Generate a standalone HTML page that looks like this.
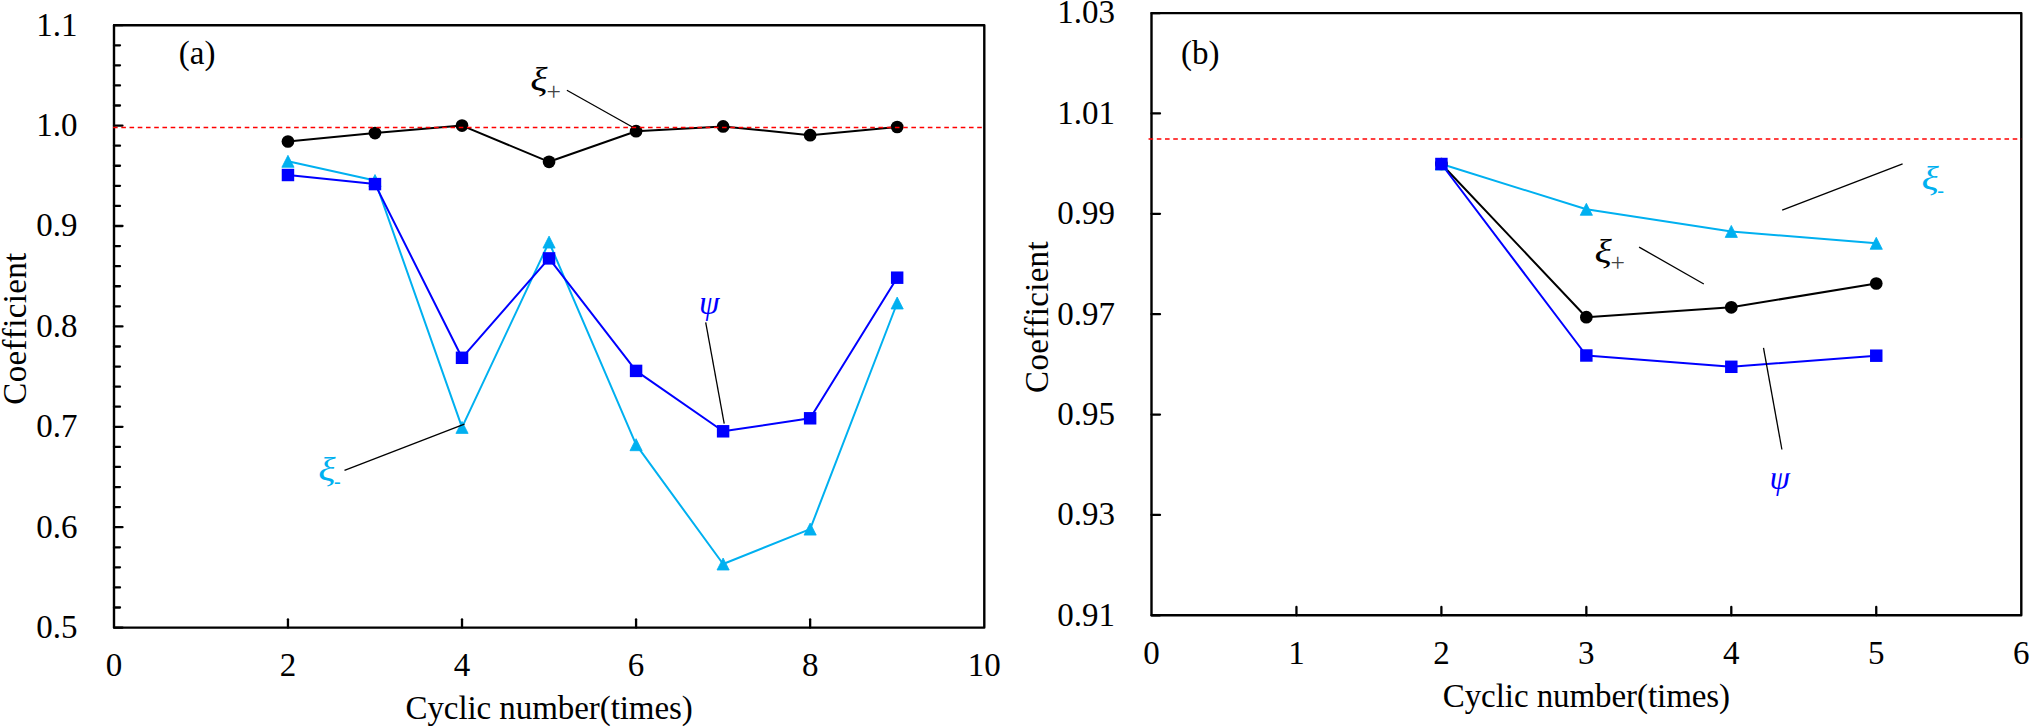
<!DOCTYPE html>
<html><head><meta charset="utf-8"><title>Coefficient vs cyclic number</title>
<style>html,body{margin:0;padding:0;background:#fff;}svg{display:block;}
text{font-family:"Liberation Serif", serif;font-variant-ligatures:none;font-kerning:none;}</style></head>
<body><svg width="2031" height="728" viewBox="0 0 2031 728">
<rect width="2031" height="728" fill="#fff"/>
<polyline points="287.96,141.50 374.99,133.10 462.02,125.60 549.05,161.80 636.08,131.20 723.11,126.40 810.14,135.20 897.17,127.00" fill="none" stroke="#000" stroke-width="2" stroke-linejoin="round"/>
<polyline points="287.96,161.30 374.99,180.50 462.02,427.40 549.05,242.10 636.08,444.70 723.11,564.00 810.14,529.10 897.17,303.00" fill="none" stroke="#00b0f0" stroke-width="2" stroke-linejoin="round"/>
<polyline points="287.96,175.00 374.99,184.10 462.02,357.80 549.05,258.40 636.08,370.90 723.11,431.30 810.14,418.30 897.17,277.70" fill="none" stroke="#0000ff" stroke-width="2" stroke-linejoin="round"/>
<circle cx="287.96" cy="141.50" r="6.35" fill="#000"/>
<circle cx="374.99" cy="133.10" r="6.35" fill="#000"/>
<circle cx="462.02" cy="125.60" r="6.35" fill="#000"/>
<circle cx="549.05" cy="161.80" r="6.35" fill="#000"/>
<circle cx="636.08" cy="131.20" r="6.35" fill="#000"/>
<circle cx="723.11" cy="126.40" r="6.35" fill="#000"/>
<circle cx="810.14" cy="135.20" r="6.35" fill="#000"/>
<circle cx="897.17" cy="127.00" r="6.35" fill="#000"/>
<polygon points="287.96,155.30 294.06,167.30 281.86,167.30" fill="#00b0f0" stroke="#00b0f0" stroke-width="0.8" stroke-linejoin="round"/>
<polygon points="374.99,174.50 381.09,186.50 368.89,186.50" fill="#00b0f0" stroke="#00b0f0" stroke-width="0.8" stroke-linejoin="round"/>
<polygon points="462.02,421.40 468.12,433.40 455.92,433.40" fill="#00b0f0" stroke="#00b0f0" stroke-width="0.8" stroke-linejoin="round"/>
<polygon points="549.05,236.10 555.15,248.10 542.95,248.10" fill="#00b0f0" stroke="#00b0f0" stroke-width="0.8" stroke-linejoin="round"/>
<polygon points="636.08,438.70 642.18,450.70 629.98,450.70" fill="#00b0f0" stroke="#00b0f0" stroke-width="0.8" stroke-linejoin="round"/>
<polygon points="723.11,558.00 729.21,570.00 717.01,570.00" fill="#00b0f0" stroke="#00b0f0" stroke-width="0.8" stroke-linejoin="round"/>
<polygon points="810.14,523.10 816.24,535.10 804.04,535.10" fill="#00b0f0" stroke="#00b0f0" stroke-width="0.8" stroke-linejoin="round"/>
<polygon points="897.17,297.00 903.27,309.00 891.07,309.00" fill="#00b0f0" stroke="#00b0f0" stroke-width="0.8" stroke-linejoin="round"/>
<rect x="281.74" y="168.78" width="12.45" height="12.45" fill="#0000ff"/>
<rect x="368.76" y="177.88" width="12.45" height="12.45" fill="#0000ff"/>
<rect x="455.79" y="351.57" width="12.45" height="12.45" fill="#0000ff"/>
<rect x="542.82" y="252.17" width="12.45" height="12.45" fill="#0000ff"/>
<rect x="629.86" y="364.67" width="12.45" height="12.45" fill="#0000ff"/>
<rect x="716.88" y="425.07" width="12.45" height="12.45" fill="#0000ff"/>
<rect x="803.91" y="412.07" width="12.45" height="12.45" fill="#0000ff"/>
<rect x="890.94" y="271.47" width="12.45" height="12.45" fill="#0000ff"/>
<line x1="566.90" y1="90.20" x2="633.30" y2="127.50" stroke="#000" stroke-width="1.3" />
<line x1="705.70" y1="322.40" x2="724.20" y2="423.70" stroke="#000" stroke-width="1.3" />
<line x1="344.50" y1="470.30" x2="464.40" y2="424.20" stroke="#000" stroke-width="1.3" />
<rect x="114.00" y="25.20" width="870.30" height="602.40" fill="none" stroke="#000" stroke-width="2.4" stroke-linejoin="round"/>
<line x1="114.00" y1="25.20" x2="122.50" y2="25.20" stroke="#000" stroke-width="2.3" stroke-linecap="round"/>
<line x1="114.00" y1="45.28" x2="120.00" y2="45.28" stroke="#000" stroke-width="2.3" stroke-linecap="round"/>
<line x1="114.00" y1="65.36" x2="120.00" y2="65.36" stroke="#000" stroke-width="2.3" stroke-linecap="round"/>
<line x1="114.00" y1="85.44" x2="120.00" y2="85.44" stroke="#000" stroke-width="2.3" stroke-linecap="round"/>
<line x1="114.00" y1="105.52" x2="120.00" y2="105.52" stroke="#000" stroke-width="2.3" stroke-linecap="round"/>
<line x1="114.00" y1="125.60" x2="122.50" y2="125.60" stroke="#000" stroke-width="2.3" stroke-linecap="round"/>
<line x1="114.00" y1="145.68" x2="120.00" y2="145.68" stroke="#000" stroke-width="2.3" stroke-linecap="round"/>
<line x1="114.00" y1="165.76" x2="120.00" y2="165.76" stroke="#000" stroke-width="2.3" stroke-linecap="round"/>
<line x1="114.00" y1="185.84" x2="120.00" y2="185.84" stroke="#000" stroke-width="2.3" stroke-linecap="round"/>
<line x1="114.00" y1="205.92" x2="120.00" y2="205.92" stroke="#000" stroke-width="2.3" stroke-linecap="round"/>
<line x1="114.00" y1="226.00" x2="122.50" y2="226.00" stroke="#000" stroke-width="2.3" stroke-linecap="round"/>
<line x1="114.00" y1="246.08" x2="120.00" y2="246.08" stroke="#000" stroke-width="2.3" stroke-linecap="round"/>
<line x1="114.00" y1="266.16" x2="120.00" y2="266.16" stroke="#000" stroke-width="2.3" stroke-linecap="round"/>
<line x1="114.00" y1="286.24" x2="120.00" y2="286.24" stroke="#000" stroke-width="2.3" stroke-linecap="round"/>
<line x1="114.00" y1="306.32" x2="120.00" y2="306.32" stroke="#000" stroke-width="2.3" stroke-linecap="round"/>
<line x1="114.00" y1="326.40" x2="122.50" y2="326.40" stroke="#000" stroke-width="2.3" stroke-linecap="round"/>
<line x1="114.00" y1="346.48" x2="120.00" y2="346.48" stroke="#000" stroke-width="2.3" stroke-linecap="round"/>
<line x1="114.00" y1="366.56" x2="120.00" y2="366.56" stroke="#000" stroke-width="2.3" stroke-linecap="round"/>
<line x1="114.00" y1="386.64" x2="120.00" y2="386.64" stroke="#000" stroke-width="2.3" stroke-linecap="round"/>
<line x1="114.00" y1="406.72" x2="120.00" y2="406.72" stroke="#000" stroke-width="2.3" stroke-linecap="round"/>
<line x1="114.00" y1="426.80" x2="122.50" y2="426.80" stroke="#000" stroke-width="2.3" stroke-linecap="round"/>
<line x1="114.00" y1="446.88" x2="120.00" y2="446.88" stroke="#000" stroke-width="2.3" stroke-linecap="round"/>
<line x1="114.00" y1="466.96" x2="120.00" y2="466.96" stroke="#000" stroke-width="2.3" stroke-linecap="round"/>
<line x1="114.00" y1="487.04" x2="120.00" y2="487.04" stroke="#000" stroke-width="2.3" stroke-linecap="round"/>
<line x1="114.00" y1="507.12" x2="120.00" y2="507.12" stroke="#000" stroke-width="2.3" stroke-linecap="round"/>
<line x1="114.00" y1="527.20" x2="122.50" y2="527.20" stroke="#000" stroke-width="2.3" stroke-linecap="round"/>
<line x1="114.00" y1="547.28" x2="120.00" y2="547.28" stroke="#000" stroke-width="2.3" stroke-linecap="round"/>
<line x1="114.00" y1="567.36" x2="120.00" y2="567.36" stroke="#000" stroke-width="2.3" stroke-linecap="round"/>
<line x1="114.00" y1="587.44" x2="120.00" y2="587.44" stroke="#000" stroke-width="2.3" stroke-linecap="round"/>
<line x1="114.00" y1="607.52" x2="120.00" y2="607.52" stroke="#000" stroke-width="2.3" stroke-linecap="round"/>
<line x1="114.00" y1="627.60" x2="122.50" y2="627.60" stroke="#000" stroke-width="2.3" stroke-linecap="round"/>
<line x1="287.96" y1="627.60" x2="287.96" y2="619.30" stroke="#000" stroke-width="2.3" stroke-linecap="round"/>
<line x1="462.02" y1="627.60" x2="462.02" y2="619.30" stroke="#000" stroke-width="2.3" stroke-linecap="round"/>
<line x1="636.08" y1="627.60" x2="636.08" y2="619.30" stroke="#000" stroke-width="2.3" stroke-linecap="round"/>
<line x1="810.14" y1="627.60" x2="810.14" y2="619.30" stroke="#000" stroke-width="2.3" stroke-linecap="round"/>
<line x1="113.06" y1="127.50" x2="984.30" y2="127.50" stroke="#ff0000" stroke-width="1.4" stroke-dasharray="4.6 3.63"/>
<text x="77.50" y="35.50" text-anchor="end" font-size="33" font-style="normal" fill="#000" >1.1</text>
<text x="77.50" y="135.90" text-anchor="end" font-size="33" font-style="normal" fill="#000" >1.0</text>
<text x="77.50" y="236.30" text-anchor="end" font-size="33" font-style="normal" fill="#000" >0.9</text>
<text x="77.50" y="336.70" text-anchor="end" font-size="33" font-style="normal" fill="#000" >0.8</text>
<text x="77.50" y="437.10" text-anchor="end" font-size="33" font-style="normal" fill="#000" >0.7</text>
<text x="77.50" y="537.50" text-anchor="end" font-size="33" font-style="normal" fill="#000" >0.6</text>
<text x="77.50" y="637.90" text-anchor="end" font-size="33" font-style="normal" fill="#000" >0.5</text>
<text x="113.90" y="676.40" text-anchor="middle" font-size="33" font-style="normal" fill="#000" >0</text>
<text x="287.96" y="676.40" text-anchor="middle" font-size="33" font-style="normal" fill="#000" >2</text>
<text x="462.02" y="676.40" text-anchor="middle" font-size="33" font-style="normal" fill="#000" >4</text>
<text x="636.08" y="676.40" text-anchor="middle" font-size="33" font-style="normal" fill="#000" >6</text>
<text x="810.14" y="676.40" text-anchor="middle" font-size="33" font-style="normal" fill="#000" >8</text>
<text x="984.20" y="676.40" text-anchor="middle" font-size="33" font-style="normal" fill="#000" >10</text>
<text x="549.10" y="719.00" text-anchor="middle" font-size="33" font-style="normal" fill="#000" letter-spacing="-0.07">Cyclic number(times)</text>
<text x="26.50" y="328.55" text-anchor="middle" font-size="33" font-style="normal" fill="#000" letter-spacing="0.35" transform="rotate(-90 26.5 328.55)">Coefficient</text>
<text x="178.80" y="64.00" text-anchor="start" font-size="33" font-style="normal" fill="#000" >(a)</text>
<text transform="translate(530.30 91.00) scale(1.22 1.0)" font-size="33" font-style="italic" fill="#000" >ξ</text>
<text x="546.60" y="99.70" text-anchor="start" font-size="25.5" font-style="normal" fill="#444" >+</text>
<clipPath id="cpa"><rect x="680" y="297.9" width="60" height="40"/></clipPath>
<text x="698.90" y="314.20" text-anchor="start" font-size="33" font-style="italic" fill="#0000ff" clip-path="url(#cpa)">ψ</text>
<text transform="translate(318.20 481.00) scale(1.22 1.0)" font-size="33" font-style="italic" fill="#00b0f0" >ξ</text>
<text x="334.00" y="488.00" text-anchor="start" font-size="20" font-style="normal" fill="#00b0f0" >-</text>
<polyline points="1441.40,164.00 1586.35,317.20 1731.30,307.30 1876.25,283.50" fill="none" stroke="#000" stroke-width="2" stroke-linejoin="round"/>
<polyline points="1441.40,164.00 1586.35,209.30 1731.30,231.40 1876.25,243.30" fill="none" stroke="#00b0f0" stroke-width="2" stroke-linejoin="round"/>
<polyline points="1441.40,164.00 1586.35,355.50 1731.30,366.80 1876.25,355.70" fill="none" stroke="#0000ff" stroke-width="2" stroke-linejoin="round"/>
<circle cx="1441.40" cy="164.00" r="6.35" fill="#000"/>
<circle cx="1586.35" cy="317.20" r="6.35" fill="#000"/>
<circle cx="1731.30" cy="307.30" r="6.35" fill="#000"/>
<circle cx="1876.25" cy="283.50" r="6.35" fill="#000"/>
<polygon points="1441.40,158.00 1447.50,170.00 1435.30,170.00" fill="#00b0f0" stroke="#00b0f0" stroke-width="0.8" stroke-linejoin="round"/>
<polygon points="1586.35,203.30 1592.45,215.30 1580.25,215.30" fill="#00b0f0" stroke="#00b0f0" stroke-width="0.8" stroke-linejoin="round"/>
<polygon points="1731.30,225.40 1737.40,237.40 1725.20,237.40" fill="#00b0f0" stroke="#00b0f0" stroke-width="0.8" stroke-linejoin="round"/>
<polygon points="1876.25,237.30 1882.35,249.30 1870.15,249.30" fill="#00b0f0" stroke="#00b0f0" stroke-width="0.8" stroke-linejoin="round"/>
<rect x="1435.18" y="157.78" width="12.45" height="12.45" fill="#0000ff"/>
<rect x="1580.12" y="349.27" width="12.45" height="12.45" fill="#0000ff"/>
<rect x="1725.08" y="360.57" width="12.45" height="12.45" fill="#0000ff"/>
<rect x="1870.03" y="349.47" width="12.45" height="12.45" fill="#0000ff"/>
<line x1="1782.20" y1="210.10" x2="1902.60" y2="163.80" stroke="#000" stroke-width="1.3" />
<line x1="1639.10" y1="247.10" x2="1703.80" y2="284.00" stroke="#000" stroke-width="1.3" />
<line x1="1763.50" y1="347.80" x2="1781.90" y2="449.50" stroke="#000" stroke-width="1.3" />
<rect x="1151.50" y="13.10" width="869.80" height="602.20" fill="none" stroke="#000" stroke-width="2.4" stroke-linejoin="round"/>
<line x1="1148.55" y1="139.00" x2="2021.30" y2="139.00" stroke="#ff0000" stroke-width="1.4" stroke-dasharray="4.6 3.63"/>
<line x1="1151.50" y1="13.10" x2="1160.00" y2="13.10" stroke="#000" stroke-width="2.3" stroke-linecap="round"/>
<line x1="1151.50" y1="113.47" x2="1160.00" y2="113.47" stroke="#000" stroke-width="2.3" stroke-linecap="round"/>
<line x1="1151.50" y1="213.83" x2="1160.00" y2="213.83" stroke="#000" stroke-width="2.3" stroke-linecap="round"/>
<line x1="1151.50" y1="314.20" x2="1160.00" y2="314.20" stroke="#000" stroke-width="2.3" stroke-linecap="round"/>
<line x1="1151.50" y1="414.57" x2="1160.00" y2="414.57" stroke="#000" stroke-width="2.3" stroke-linecap="round"/>
<line x1="1151.50" y1="514.93" x2="1160.00" y2="514.93" stroke="#000" stroke-width="2.3" stroke-linecap="round"/>
<line x1="1151.50" y1="615.30" x2="1160.00" y2="615.30" stroke="#000" stroke-width="2.3" stroke-linecap="round"/>
<line x1="1296.45" y1="615.30" x2="1296.45" y2="607.00" stroke="#000" stroke-width="2.3" stroke-linecap="round"/>
<line x1="1441.40" y1="615.30" x2="1441.40" y2="607.00" stroke="#000" stroke-width="2.3" stroke-linecap="round"/>
<line x1="1586.35" y1="615.30" x2="1586.35" y2="607.00" stroke="#000" stroke-width="2.3" stroke-linecap="round"/>
<line x1="1731.30" y1="615.30" x2="1731.30" y2="607.00" stroke="#000" stroke-width="2.3" stroke-linecap="round"/>
<line x1="1876.25" y1="615.30" x2="1876.25" y2="607.00" stroke="#000" stroke-width="2.3" stroke-linecap="round"/>
<text x="1115.00" y="23.40" text-anchor="end" font-size="33" font-style="normal" fill="#000" >1.03</text>
<text x="1115.00" y="123.77" text-anchor="end" font-size="33" font-style="normal" fill="#000" >1.01</text>
<text x="1115.00" y="224.13" text-anchor="end" font-size="33" font-style="normal" fill="#000" >0.99</text>
<text x="1115.00" y="324.50" text-anchor="end" font-size="33" font-style="normal" fill="#000" >0.97</text>
<text x="1115.00" y="424.87" text-anchor="end" font-size="33" font-style="normal" fill="#000" >0.95</text>
<text x="1115.00" y="525.23" text-anchor="end" font-size="33" font-style="normal" fill="#000" >0.93</text>
<text x="1115.00" y="625.60" text-anchor="end" font-size="33" font-style="normal" fill="#000" >0.91</text>
<text x="1151.50" y="664.40" text-anchor="middle" font-size="33" font-style="normal" fill="#000" >0</text>
<text x="1296.45" y="664.40" text-anchor="middle" font-size="33" font-style="normal" fill="#000" >1</text>
<text x="1441.40" y="664.40" text-anchor="middle" font-size="33" font-style="normal" fill="#000" >2</text>
<text x="1586.35" y="664.40" text-anchor="middle" font-size="33" font-style="normal" fill="#000" >3</text>
<text x="1731.30" y="664.40" text-anchor="middle" font-size="33" font-style="normal" fill="#000" >4</text>
<text x="1876.25" y="664.40" text-anchor="middle" font-size="33" font-style="normal" fill="#000" >5</text>
<text x="2021.20" y="664.40" text-anchor="middle" font-size="33" font-style="normal" fill="#000" >6</text>
<text x="1586.40" y="707.40" text-anchor="middle" font-size="33" font-style="normal" fill="#000" letter-spacing="-0.07">Cyclic number(times)</text>
<text x="1047.90" y="317.00" text-anchor="middle" font-size="33" font-style="normal" fill="#000" letter-spacing="0.3" transform="rotate(-90 1047.9 317.0)">Coefficient</text>
<text x="1181.00" y="64.00" text-anchor="start" font-size="33" font-style="normal" fill="#000" >(b)</text>
<text transform="translate(1921.60 190.00) scale(1.22 1.0)" font-size="33" font-style="italic" fill="#00b0f0" >ξ</text>
<text x="1937.20" y="196.80" text-anchor="start" font-size="20" font-style="normal" fill="#00b0f0" >-</text>
<text transform="translate(1594.40 262.50) scale(1.22 1.0)" font-size="33" font-style="italic" fill="#000" >ξ</text>
<text x="1610.50" y="270.50" text-anchor="start" font-size="25.5" font-style="normal" fill="#444" >+</text>
<clipPath id="cpb"><rect x="1750" y="473.3" width="60" height="40"/></clipPath>
<text x="1769.60" y="488.80" text-anchor="start" font-size="33" font-style="italic" fill="#0000ff" clip-path="url(#cpb)">ψ</text>
</svg></body></html>
